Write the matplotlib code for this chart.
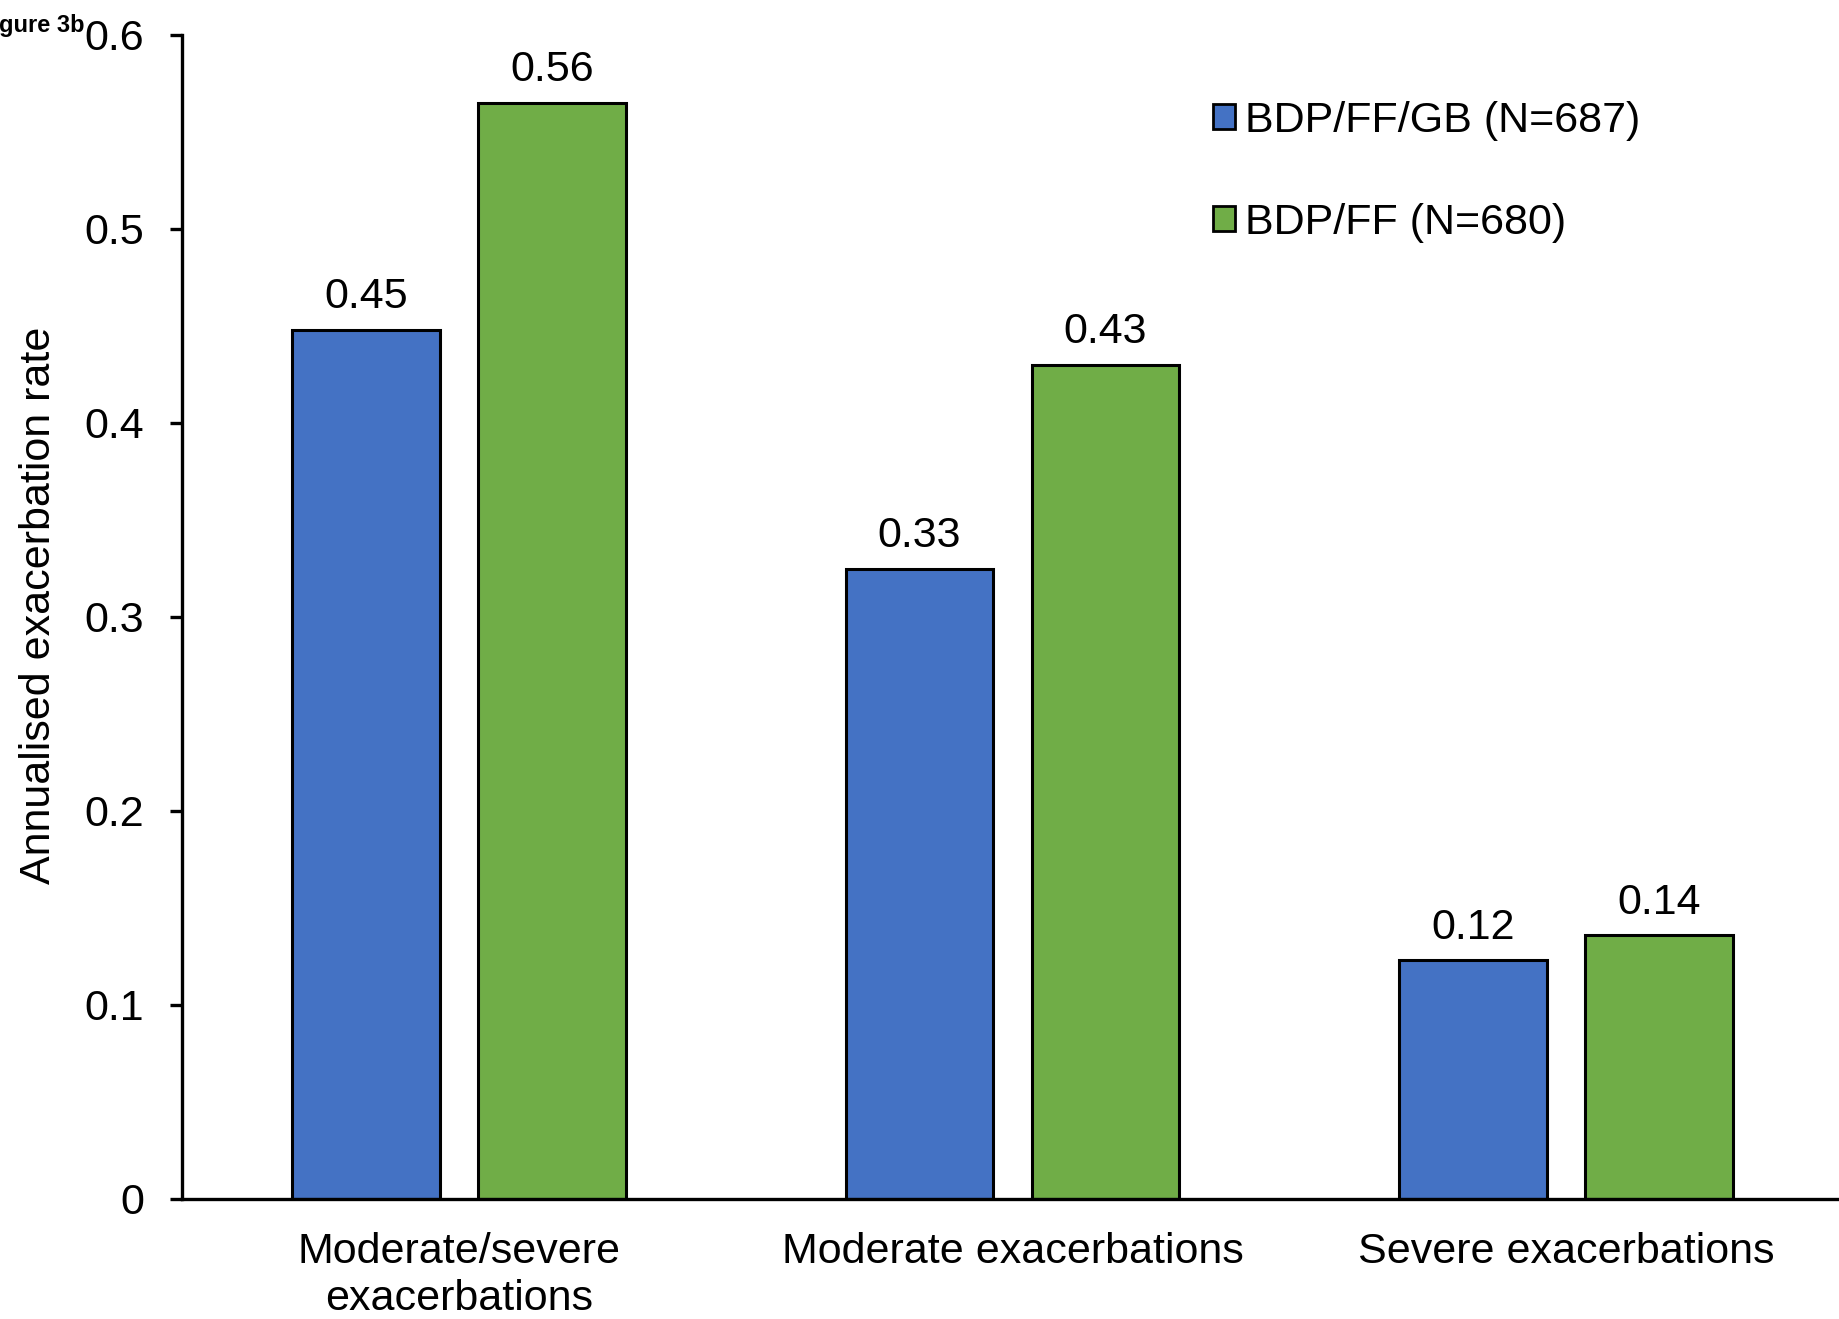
import matplotlib
matplotlib.use("Agg")
import matplotlib.pyplot as plt
import numpy as np

plt.rcParams['font.family'] = ['Liberation Sans', 'DejaVu Sans']

# data
categories = ['Moderate/severe\nexacerbations', 'Moderate exacerbations', 'Severe exacerbations']
series_names = ['BDP/FF/GB (N=687)', 'BDP/FF (N=680)']
triple_rates = [0.448, 0.325, 0.123]
dual_rates = [0.565, 0.430, 0.136]
triple_labels = ['0.45', '0.33', '0.12']
dual_labels = ['0.56', '0.43', '0.14']
yticks = [0, 0.1, 0.2, 0.3, 0.4, 0.5, 0.6]
ytick_labels = ['0', '0.1', '0.2', '0.3', '0.4', '0.5', '0.6']

blue = '#4472C4'
green = '#70AD47'
fs = 31

fig = plt.figure(figsize=(18.39, 13.19), dpi=100)
ax = fig.add_axes([182 / 1839, 120 / 1319, 1661 / 1839, 1164 / 1319])

x = np.arange(len(categories))
w = 0.267
off = 0.168
b1 = ax.bar(x - off, triple_rates, w, color=blue, edgecolor='black', linewidth=2.2, label=series_names[0])
b2 = ax.bar(x + off, dual_rates, w, color=green, edgecolor='black', linewidth=2.2, label=series_names[1])
ax.bar_label(b1, labels=triple_labels, padding=9, fontsize=fs)
ax.bar_label(b2, labels=dual_labels, padding=9, fontsize=fs)

ax.set_xlim(-0.5, 2.5)
ax.set_ylim(0, 0.6)
ax.set_yticks(yticks)
ax.set_yticklabels(ytick_labels, fontsize=fs)
ax.set_xticks(x)
ax.set_xticklabels(categories, fontsize=fs, linespacing=1.2)
ax.tick_params(axis='x', length=0, pad=24)
ax.tick_params(axis='y', length=9, width=2.4, pad=18)

for s in ['top', 'right']:
    ax.spines[s].set_visible(False)
for s in ['left', 'bottom']:
    ax.spines[s].set_linewidth(2.4)

ax.set_ylabel('Annualised exacerbation rate', fontsize=fs)
ax.yaxis.set_label_coords(-0.074, 0.51)

leg = ax.legend(loc='upper left', bbox_to_anchor=(1213 / 1839, 1 - 101 / 1319),
                bbox_transform=fig.transFigure, frameon=False, fontsize=fs,
                handlelength=0.5, handleheight=0.5, handletextpad=0.25,
                labelspacing=1.44, borderpad=0, borderaxespad=0)
for h in leg.legend_handles:
    h.set_linewidth(2.0)

# partly cut off at the left edge, as in the source figure
fig.text(85 / 1839, 1 - 32 / 1319, 'Figure 3b', fontsize=17, fontweight='bold',
         ha='right', va='baseline')

fig.savefig('out.png', dpi=100)
